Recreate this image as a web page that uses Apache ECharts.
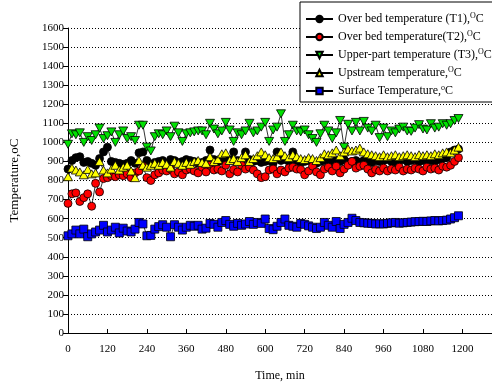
<!DOCTYPE html>
<html>
<head>
<meta charset="utf-8">
<script src="https://cdn.jsdelivr.net/npm/echarts@6/dist/echarts.min.js"></script>
<style>
  html, body { margin: 0; padding: 0; background: #fff; }
  #main { width: 492px; height: 387px; }
</style>
</head>
<body>
<div id="main"></div>
<script>
// time (min)
const times = [0, 12, 24, 36, 48, 60, 72, 84, 96, 108, 120, 132, 144, 156, 168, 180, 192, 204, 216, 228,
  240, 252, 264, 276, 288, 300, 312, 324, 336, 348, 360, 372, 384, 396, 408, 420, 432, 444, 456, 468,
  480, 492, 504, 516, 528, 540, 552, 564, 576, 588, 600, 612, 624, 636, 648, 660, 672, 684, 696, 708,
  720, 732, 744, 756, 768, 780, 792, 804, 816, 828, 840, 852, 864, 876, 888, 900, 912, 924, 936, 948,
  960, 972, 984, 996, 1008, 1020, 1032, 1044, 1056, 1068, 1080, 1092, 1104, 1116, 1128, 1140, 1152, 1164, 1176, 1188];

const overBedT1 = [860, 905, 920, 925, 895, 900, 890, 880, 915, 950, 975, 900, 895, 890, 885, 890, 905, 890, 945, 950,
  905, 885, 895, 900, 905, 890, 910, 905, 895, 900, 910, 905, 900, 890, 895, 905, 960, 910, 900, 905,
  900, 910, 950, 905, 895, 950, 910, 900, 905, 895, 900, 905, 890, 950, 905, 910, 900, 950, 905, 895,
  900, 905, 895, 890, 900, 905, 910, 895, 905, 900, 910, 895, 900, 905, 895, 905, 900, 895, 905, 900,
  905, 910, 900, 895, 905, 910, 900, 905, 910, 900, 905, 910, 905, 900, 910, 915, 920, 950, 960, 965];

const overBedT2 = [680, 730, 735, 690, 710, 730, 665, 785, 740, 810, 815, 825, 820, 830, 825, 835, 815, 840, 850, 875,
  815, 800, 830, 840, 855, 850, 860, 835, 845, 830, 855, 860, 850, 840, 870, 845, 880, 855, 860, 850,
  880, 835, 858, 845, 880, 860, 870, 855, 835, 815, 820, 855, 860, 835, 855, 845, 865, 870, 860, 858,
  830, 850, 875, 845, 830, 860, 870, 850, 875, 840, 860, 880, 900, 865, 875, 880, 860, 840, 858, 850,
  865, 850, 860, 855, 870, 850, 860, 855, 865, 860, 850, 870, 860, 865, 855, 875, 870, 880, 900, 920];

const upperT3 = [990, 1045, 1040, 1050, 1000, 1030, 1010, 1040, 1075, 1020, 1035, 1055, 1000, 1040, 1060, 1020, 1030, 1010, 1090, 1090,
  975, 955, 1030, 1045, 1040, 1060, 1030, 1085, 1050, 1005, 1045, 1050, 1055, 1060, 1060, 1040, 1100, 1070, 1045, 1060,
  1105, 1065, 1005, 1050, 1040, 1060, 1100, 1050, 1060, 1080, 1105, 1005, 1065, 1080, 1150, 1005, 1040, 1090, 1060, 1055,
  1065, 1040, 1020, 1000, 1045, 1090, 1060, 1020, 1050, 1115, 975, 1095, 1060, 1105, 1060, 1110, 1075, 1060, 1090, 1025,
  1075, 1030, 1060, 1050, 1070, 1080, 1060, 1058, 1075, 1093, 1070, 1065, 1098, 1075, 1080, 1098, 1090, 1098, 1115, 1125];

const upstream = [820, 865, 855, 845, 830, 858, 835, 840, 900, 855, 840, 860, 880, 855, 870, 880, 850, 815, 905, 880,
  870, 880, 890, 880, 895, 885, 870, 900, 890, 880, 895, 885, 900, 905, 895, 890, 925, 900, 910, 940,
  945, 905, 915, 900, 920, 935, 900, 915, 930, 950, 935, 920, 915, 925, 950, 930, 920, 935, 925, 915,
  910, 920, 915, 905, 920, 940, 935, 945, 960, 930, 950, 965, 955, 960, 970, 950, 940, 935, 930, 925,
  935, 925, 930, 935, 925, 930, 935, 930, 925, 935, 930, 935, 930, 940, 935, 945, 950, 945, 960, 975];

const surface = [510, 520, 540, 520, 545, 505, 520, 530, 540, 565, 530, 540, 555, 525, 550, 535, 530, 545, 580, 572,
  510, 512, 545, 558, 568, 555, 505, 568, 555, 540, 555, 565, 560, 565, 545, 550, 575, 570, 555, 580,
  590, 570, 560, 575, 565, 572, 585, 570, 580, 575, 598, 548, 542, 560, 580, 598, 565, 560, 555, 575,
  570, 562, 555, 548, 555, 580, 565, 555, 585, 548, 570, 580, 602, 590, 580, 578, 576, 575, 572, 573,
  572, 575, 578, 580, 576, 578, 580, 582, 584, 585, 586, 585, 588, 590, 588, 590, 592, 598, 605, 615];

const names = ['Over bed temperature (T1),OC', 'Over bed temperature(T2),OC', 'Upper-part temperature (T3),OC',
  'Upstream temperature,OC', 'Surface Temperature,oC'];
const legendRich = ['Over bed temperature (T1),{s|O}C', 'Over bed temperature(T2),{s|O}C', 'Upper-part temperature (T3),{s|O}C',
  'Upstream temperature,{s|O}C', 'Surface Temperature,{s|o}C'];
const fills = ['#000000', '#ff0000', '#00e000', '#ffff00', '#0000ff'];
const symbols = ['circle', 'circle', 'triangle', 'triangle', 'rect'];
const rotates = [0, 0, 180, 0, 0];
const sizes = [8, 8, [9, 8], [9, 8], 8];
const seriesValues = [overBedT1, overBedT2, upperT3, upstream, surface];

const font = 'Liberation Serif, Times New Roman, serif';
const chart = echarts.init(document.getElementById('main'));

chart.setOption({
  animation: false,
  backgroundColor: '#fff',
  textStyle: { fontFamily: font, color: '#000' },
  grid: { left: 67.5, right: 0, top: 28, bottom: 50 },
  legend: {
    orient: 'vertical',
    left: 300, top: 2,
    backgroundColor: '#fff',
    borderColor: '#000', borderWidth: 1, borderRadius: 0,
    padding: [10, 10, 4, 5],
    itemWidth: 27, itemHeight: 8, itemGap: 4,
    data: names,
    formatter: name => legendRich[names.indexOf(name)],
    textStyle: {
      fontFamily: font, fontSize: 12, color: '#000', lineHeight: 14,
      rich: { s: { fontFamily: font, fontSize: 8, color: '#000', verticalAlign: 'top', lineHeight: 8 } }
    }
  },
  xAxis: {
    type: 'value', min: 0, max: 1290, interval: 120,
    name: 'Time, min', nameLocation: 'middle', nameGap: 37,
    nameTextStyle: { fontFamily: font, fontSize: 12, fontWeight: 'normal', color: '#000' },
    axisLine: { lineStyle: { color: '#000', width: 1 } },
    axisTick: { inside: true, length: 4, lineStyle: { color: '#000' } },
    axisLabel: { showMaxLabel: false, fontFamily: font, fontSize: 11, color: '#000', margin: 11,
      formatter: v => String(v) },
    splitLine: { show: false }
  },
  yAxis: {
    type: 'value', min: 0, max: 1600, interval: 100,
    name: 'Temperature,oC', nameLocation: 'middle', nameGap: 47,
    nameTextStyle: { fontFamily: font, fontSize: 13, fontWeight: 'normal', color: '#000' },
    axisLine: { show: true, lineStyle: { color: '#000', width: 1 } },
    axisTick: { show: true, length: 5, lineStyle: { color: '#000' } },
    axisLabel: { fontFamily: font, fontSize: 11, color: '#000', margin: 4, formatter: v => String(v) },
    splitLine: { show: true, lineStyle: { color: '#000', width: 1, type: [1, 2] } }
  },
  series: seriesValues.map((vals, k) => ({
    name: names[k],
    type: 'line',
    data: times.map((t, i) => [t, vals[i]]),
    symbol: symbols[k],
    symbolRotate: rotates[k],
    symbolSize: sizes[k],
    showSymbol: true,
    showAllSymbol: true,
    lineStyle: { color: '#000', width: 0.8 },
    itemStyle: { color: fills[k], borderColor: '#000', borderWidth: 0.8 },
    emphasis: { disabled: true }
  }))
});
</script>
</body>
</html>
